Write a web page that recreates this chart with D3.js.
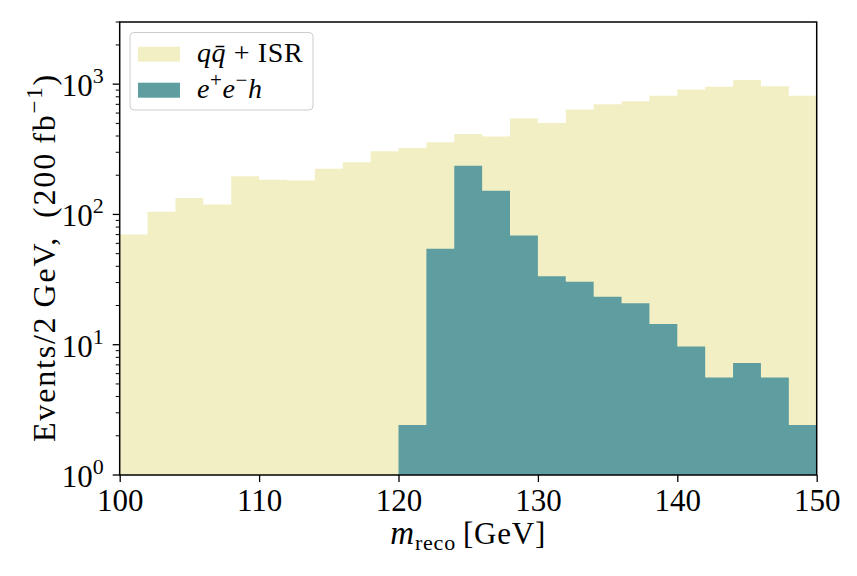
<!DOCTYPE html>
<html lang="en">
<head>
<meta charset="UTF-8" />
<title>m_reco histogram</title>
<script src="https://d3js.org/d3.v7.min.js"></script>
<style>
  body {margin: 0; background: #fff;}
  svg text {font-family: "Liberation Serif", "DejaVu Serif", serif; fill: #000;}
</style>
</head>
<body>
<script>
// bin lower edges, 2 GeV wide
const binStarts = [100, 102, 104, 106, 108, 110, 112, 114, 116, 118, 120, 122, 124,
                   126, 128, 130, 132, 134, 136, 138, 140, 142, 144, 146, 148];
const binEnd = 150;

// q qbar + ISR background
const bkgEvents = [70, 105, 134, 119, 196, 185, 182, 224, 252, 305, 324, 358, 415,
                   396, 544, 504, 638, 700, 738, 816, 908, 957, 1077, 962, 816];

// e+ e- h signal
const sigEvents = [0, 0, 0, 0, 0, 0, 0, 0, 0, 0, 2.42, 54.6, 236,
                   152, 69, 33.5, 30.5, 23.3, 20.8, 14.4, 9.7, 5.6, 7.25, 5.6, 2.42];

const xTicks = [100, 110, 120, 130, 140, 150];
const yDecades = [0, 1, 2, 3];

const width = 857, height = 576;
const padLeft = 119.7, padRight = 816.7, padTop = 22, padBottom = 475;

const svg = d3.select("body").append("svg")
              .attr("width", width)
              .attr("height", height);

const x = d3.scaleLinear().domain([100, 150]).range([padLeft, padRight]);
const y = d3.scaleLog().domain([1, 3000]).range([padBottom, padTop]);

svg.append("clipPath").attr("id", "plot-clip")
   .append("rect")
   .attr("x", padLeft).attr("y", padTop)
   .attr("width", padRight - padLeft).attr("height", padBottom - padTop);

// step histograms
function steps(values) {
  const pts = binStarts.map((b, i) => ({edge: b, v: values[i]}));
  pts.push({edge: binEnd, v: values[values.length - 1]});
  return pts;
}

const area = d3.area()
               .curve(d3.curveStepAfter)
               .x(d => x(d.edge))
               .y0(y(1))
               .y1(d => d.v > 0 ? y(d.v) : y(1));

const g = svg.append("g").attr("clip-path", "url(#plot-clip)");

g.append("path")
 .attr("d", area(steps(bkgEvents)))
 .attr("fill", "#f3efc4");

g.append("path")
 .attr("d", area(steps(sigEvents)))
 .attr("fill", "#5f9ea0");

// x axis
const xAxis = d3.axisBottom(x).tickValues(xTicks).tickSize(7).tickPadding(7).tickFormat(d3.format("d"));
const gx = svg.append("g")
   .attr("transform", `translate(0, ${padBottom})`)
   .call(xAxis);
gx.select(".domain").remove();
gx.selectAll(".tick line").attr("stroke-width", 1.3);
gx.selectAll(".tick text")
  .attr("font-size", 31)
  .attr("font-family", "Liberation Serif");

// y axis (log) with major + minor ticks
const minorVals = [];
yDecades.forEach(k => {
  for (let m = 2; m <= 9; m++) {
    const v = m * Math.pow(10, k);
    if (v <= 3000) minorVals.push(v);
  }
});

const gy = svg.append("g").attr("transform", `translate(${padLeft}, 0)`);
gy.selectAll(".minor")
  .data(minorVals)
  .join("line")
  .attr("class", "minor")
  .attr("x1", -4).attr("x2", 0)
  .attr("y1", d => y(d)).attr("y2", d => y(d))
  .attr("stroke", "#000").attr("stroke-width", 1);

gy.selectAll(".major")
  .data(yDecades)
  .join("line")
  .attr("class", "major")
  .attr("x1", -7).attr("x2", 0)
  .attr("y1", d => y(Math.pow(10, d))).attr("y2", d => y(Math.pow(10, d)))
  .attr("stroke", "#000").attr("stroke-width", 1.3);

const ylab = gy.selectAll(".ylab")
  .data(yDecades)
  .join("text")
  .attr("class", "ylab")
  .attr("x", -16)
  .attr("y", d => y(Math.pow(10, d)) + 12)
  .attr("text-anchor", "end")
  .attr("font-size", 31);
ylab.append("tspan").text("10");
ylab.append("tspan").attr("dy", -13).attr("font-size", 22).text(d => d);

// frame
svg.append("rect")
   .attr("x", padLeft).attr("y", padTop)
   .attr("width", padRight - padLeft).attr("height", padBottom - padTop)
   .attr("fill", "none")
   .attr("stroke", "#000")
   .attr("stroke-width", 1.5);

// axis labels
const xl = svg.append("text")
   .attr("x", (padLeft + padRight) / 2)
   .attr("y", 544)
   .attr("text-anchor", "middle")
   .attr("font-size", 31)
   .attr("letter-spacing", 0.8);
xl.append("tspan").attr("font-style", "italic").attr("font-size", 33).text("m");
xl.append("tspan").attr("dy", 6).attr("font-size", 22).text("reco");
xl.append("tspan").attr("dy", -6).text("\u2009[GeV]");

const yl = svg.append("text")
   .attr("transform", `translate(55, ${(padTop + padBottom) / 2 + 9}) rotate(-90)`)
   .attr("text-anchor", "middle")
   .attr("font-size", 32)
   .attr("letter-spacing", 1.8);
yl.append("tspan").text("Events/2\u2009GeV, \u2009(200\u2009fb");
yl.append("tspan").attr("dy", -13).attr("font-size", 23).text("\u22121");
yl.append("tspan").attr("dy", 13).text(")");

// legend
const legend = svg.append("g").attr("class", "legend");
legend.append("rect")
      .attr("x", 130).attr("y", 32.5)
      .attr("width", 183).attr("height", 77.5)
      .attr("rx", 4)
      .attr("fill", "#fff").attr("fill-opacity", 0.8)
      .attr("stroke", "#cccccc").attr("stroke-width", 1);

const legendItems = [
  {color: "#f3efc4", parts: [["q", "italic", 0], ["q\u0304", "italic", 0], ["\u2005+\u2005ISR", "normal", 0]]},
  {color: "#5f9ea0", parts: [["e", "italic", 0], ["+", "normal", -11], ["e", "italic", 11], ["\u2212", "normal", -11], ["h", "italic", 11]]}
];

const li = legend.selectAll(".legend-item")
                 .data(legendItems)
                 .join("g")
                 .attr("class", "legend-item")
                 .attr("transform", (d, i) => `translate(0, ${i * 36})`);

li.append("rect")
  .attr("x", 138).attr("y", 46.7)
  .attr("width", 42).attr("height", 15)
  .attr("fill", d => d.color);

const lt = li.append("text")
  .attr("x", 197).attr("y", 62)
  .attr("font-size", 28)
  .attr("letter-spacing", 0.6);
lt.selectAll("tspan")
  .data(d => d.parts)
  .join("tspan")
  .attr("font-style", p => p[1])
  .attr("font-size", p => p[2] < 0 ? 21 : 28)
  .attr("dy", p => p[2])
  .text(p => p[0]);
</script>
</body>
</html>
